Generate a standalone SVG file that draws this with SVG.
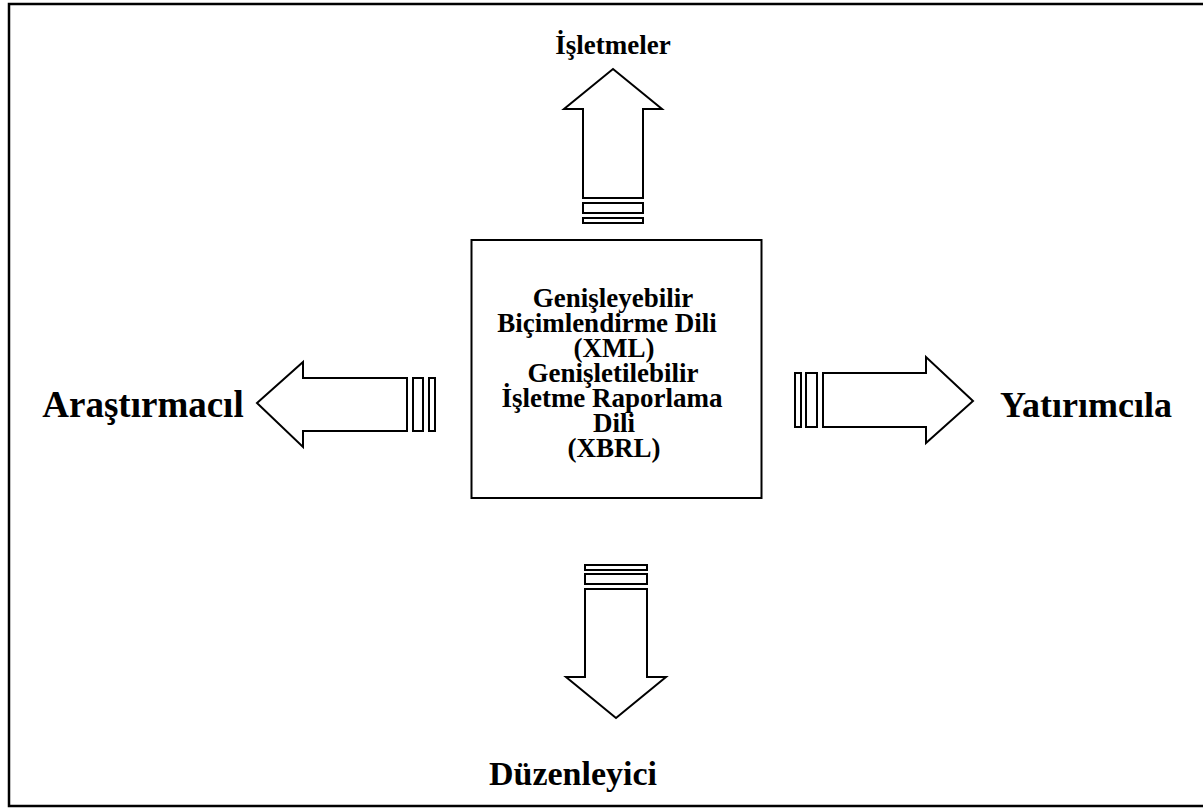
<svg xmlns="http://www.w3.org/2000/svg" width="1203" height="808" viewBox="0 0 1203 808">
<style>
.ln{fill:#fff;stroke:#000;stroke-width:2;stroke-linejoin:miter}
.t{font-family:"Liberation Serif","Times New Roman",serif;font-weight:bold;fill:#000;text-anchor:middle}
.bx{font-size:27px}
</style>
<rect x="9" y="4" width="1200" height="802" fill="#fff" stroke="#000" stroke-width="2.5"/>
<g id="center">
<rect class="ln" x="471.5" y="240" width="290" height="258"/>
<text class="t bx" x="613" y="307">Genişleyebilir</text>
<text class="t bx" x="607" y="332">Biçimlendirme Dili</text>
<text class="t bx" x="614" y="357">(XML)</text>
<text class="t bx" x="613" y="382">Genişletilebilir</text>
<text class="t bx" x="612" y="407">İşletme Raporlama</text>
<text class="t bx" x="614" y="432">Dili</text>
<text class="t bx" x="614" y="457">(XBRL)</text>
</g>
<g id="top-label"><text class="t" style="font-size:27px" x="613" y="54">İşletmeler</text></g>
<g id="left-label"><text class="t" style="font-size:37px" x="143" y="417">Araştırmacıl</text></g>
<g id="right-label"><text class="t" style="font-size:36px" x="1086" y="417">Yatırımcıla</text></g>
<g id="bottom-label"><text class="t" style="font-size:34px" x="573" y="785">Düzenleyici</text></g>
<g id="connectors">
<g id="arrow-up">
<polygon class="ln" points="613,69 662,109 643,109 643,198 583,198 583,109 564,109"/>
<rect class="ln" x="583" y="203" width="60" height="10"/>
<rect class="ln" x="583" y="218" width="60" height="5"/>
</g>
<g id="arrow-left">
<polygon class="ln" points="257,403 303,362 303,378 407,378 407,431 303,431 303,447"/>
<rect class="ln" x="413" y="378" width="10" height="53"/>
<rect class="ln" x="429" y="378" width="6" height="53"/>
</g>
<g id="arrow-right">
<polygon class="ln" points="973,401 926,357 926,373 823,373 823,427 926,427 926,443"/>
<rect class="ln" x="806" y="373" width="11" height="54"/>
<rect class="ln" x="795" y="373" width="6" height="54"/>
</g>
<g id="arrow-down">
<polygon class="ln" points="616,718 666,677 647,677 647,589 585,589 585,677 566,677"/>
<rect class="ln" x="585" y="574" width="62" height="10"/>
<rect class="ln" x="585" y="565" width="62" height="5"/>
</g>
</g>
</svg>
